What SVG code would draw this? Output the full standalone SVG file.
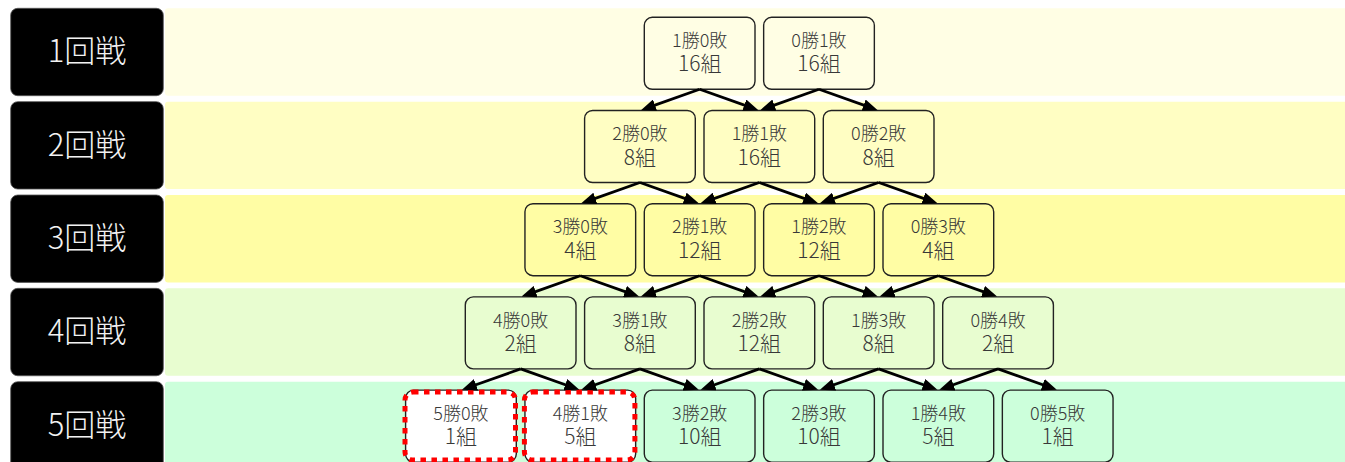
<svg xmlns="http://www.w3.org/2000/svg" width="1345" height="462" viewBox="0 0 1345 462">
<defs>
<style>
.lbl{fill:#000;stroke:#555;stroke-width:0.8}
.lt{fill:#f2f2f2;font-family:"Noto Sans CJK JP","Noto Sans",sans-serif;font-weight:300;font-size:31px;text-anchor:middle}
.nb{stroke:#222;stroke-width:1.4}
.t1{fill:#383838;font-family:"Noto Sans CJK JP","Noto Sans",sans-serif;font-weight:300;font-size:18px;text-anchor:middle}
.t2{fill:#383838;font-family:"Noto Sans CJK JP","Noto Sans",sans-serif;font-weight:300;font-size:21px;text-anchor:middle}
.a{fill:none;stroke:#000;stroke-width:2.8;marker-end:url(#ah)}
.red{fill:none;stroke:#ff0000;stroke-width:5;stroke-dasharray:5.5 5.5}
</style>
<marker id="ah" markerUnits="userSpaceOnUse" markerWidth="15" markerHeight="12" refX="9" refY="6" orient="auto">
<path d="M0,0 L15,6 L0,12 z" fill="#000"/>
</marker>
</defs>
<rect width="1345" height="462" fill="#fff"/>
<g id="bands">
<rect x="165" y="8.3" width="1190" height="87.4" rx="3" fill="#FFFEE4"/>
<rect x="165" y="101.65" width="1190" height="87.4" rx="3" fill="#FFFEC3"/>
<rect x="165" y="195" width="1190" height="87.4" rx="3" fill="#FFFDA4"/>
<rect x="165" y="288.35" width="1190" height="87.4" rx="3" fill="#E8FDD0"/>
<rect x="165" y="381.7" width="1190" height="87.4" rx="3" fill="#CCFFDB"/>
</g>
<g id="round1"><rect class="lbl" x="10.7" y="8.3" width="152.6" height="87.4" rx="7"/><text class="lt" x="87" y="62.3">1回戦</text></g>
<g id="round2"><rect class="lbl" x="10.7" y="101.65" width="152.6" height="87.4" rx="7"/><text class="lt" x="87" y="155.65">2回戦</text></g>
<g id="round3"><rect class="lbl" x="10.7" y="195" width="152.6" height="87.4" rx="7"/><text class="lt" x="87" y="249">3回戦</text></g>
<g id="round4"><rect class="lbl" x="10.7" y="288.35" width="152.6" height="87.4" rx="7"/><text class="lt" x="87" y="342.35">4回戦</text></g>
<g id="round5"><rect class="lbl" x="10.7" y="381.7" width="152.6" height="87.4" rx="7"/><text class="lt" x="87" y="435.7">5回戦</text></g>

<g id="n_1_0"><rect class="nb" fill="#FFFEE4" x="644.3" y="17.3" width="110.7" height="72" rx="8"/><text class="t1" x="699.65" y="47">1勝0敗</text><text class="t2" x="699.65" y="71.3">16組</text></g>
<g id="n_0_1"><rect class="nb" fill="#FFFEE4" x="763.65" y="17.3" width="110.7" height="72" rx="8"/><text class="t1" x="819" y="47">0勝1敗</text><text class="t2" x="819" y="71.3">16組</text></g>

<g id="n_2_0"><rect class="nb" fill="#FFFEC3" x="584.6" y="110.5" width="110.7" height="72" rx="8"/><text class="t1" x="639.98" y="140.2">2勝0敗</text><text class="t2" x="639.98" y="164.5">8組</text></g>
<g id="n_1_1"><rect class="nb" fill="#FFFEC3" x="704" y="110.5" width="110.7" height="72" rx="8"/><text class="t1" x="759.33" y="140.2">1勝1敗</text><text class="t2" x="759.33" y="164.5">16組</text></g>
<g id="n_0_2"><rect class="nb" fill="#FFFEC3" x="823.3" y="110.5" width="110.7" height="72" rx="8"/><text class="t1" x="878.68" y="140.2">0勝2敗</text><text class="t2" x="878.68" y="164.5">8組</text></g>

<g id="n_3_0"><rect class="nb" fill="#FFFDA4" x="524.95" y="203.7" width="110.7" height="72" rx="8"/><text class="t1" x="580.3" y="233.4">3勝0敗</text><text class="t2" x="580.3" y="257.7">4組</text></g>
<g id="n_2_1"><rect class="nb" fill="#FFFDA4" x="644.3" y="203.7" width="110.7" height="72" rx="8"/><text class="t1" x="699.65" y="233.4">2勝1敗</text><text class="t2" x="699.65" y="257.7">12組</text></g>
<g id="n_1_2"><rect class="nb" fill="#FFFDA4" x="763.65" y="203.7" width="110.7" height="72" rx="8"/><text class="t1" x="819" y="233.4">1勝2敗</text><text class="t2" x="819" y="257.7">12組</text></g>
<g id="n_0_3"><rect class="nb" fill="#FFFDA4" x="883" y="203.7" width="110.7" height="72" rx="8"/><text class="t1" x="938.35" y="233.4">0勝3敗</text><text class="t2" x="938.35" y="257.7">4組</text></g>

<g id="n_4_0"><rect class="nb" fill="#E8FDD0" x="465.3" y="296.9" width="110.7" height="72" rx="8"/><text class="t1" x="520.63" y="326.6">4勝0敗</text><text class="t2" x="520.63" y="350.9">2組</text></g>
<g id="n_3_1"><rect class="nb" fill="#E8FDD0" x="584.6" y="296.9" width="110.7" height="72" rx="8"/><text class="t1" x="639.98" y="326.6">3勝1敗</text><text class="t2" x="639.98" y="350.9">8組</text></g>
<g id="n_2_2"><rect class="nb" fill="#E8FDD0" x="704" y="296.9" width="110.7" height="72" rx="8"/><text class="t1" x="759.33" y="326.6">2勝2敗</text><text class="t2" x="759.33" y="350.9">12組</text></g>
<g id="n_1_3"><rect class="nb" fill="#E8FDD0" x="823.3" y="296.9" width="110.7" height="72" rx="8"/><text class="t1" x="878.68" y="326.6">1勝3敗</text><text class="t2" x="878.68" y="350.9">8組</text></g>
<g id="n_0_4"><rect class="nb" fill="#E8FDD0" x="942.7" y="296.9" width="110.7" height="72" rx="8"/><text class="t1" x="998.03" y="326.6">0勝4敗</text><text class="t2" x="998.03" y="350.9">2組</text></g>

<g id="n_5_0"><rect class="nb" fill="#fff" x="405.6" y="390.1" width="110.7" height="72" rx="8"/><rect class="red" x="405" y="392" width="110.5" height="68" rx="8"/><text class="t1" x="460.95" y="419.8">5勝0敗</text><text class="t2" x="460.95" y="444.1">1組</text></g>
<g id="n_4_1"><rect class="nb" fill="#fff" x="524.95" y="390.1" width="110.7" height="72" rx="8"/><rect class="red" x="524.4" y="392" width="110.5" height="68" rx="8"/><text class="t1" x="580.3" y="419.8">4勝1敗</text><text class="t2" x="580.3" y="444.1">5組</text></g>
<g id="n_3_2"><rect class="nb" fill="#CCFFDB" x="644.3" y="390.1" width="110.7" height="72" rx="8"/><text class="t1" x="699.65" y="419.8">3勝2敗</text><text class="t2" x="699.65" y="444.1">10組</text></g>
<g id="n_2_3"><rect class="nb" fill="#CCFFDB" x="763.65" y="390.1" width="110.7" height="72" rx="8"/><text class="t1" x="819" y="419.8">2勝3敗</text><text class="t2" x="819" y="444.1">10組</text></g>
<g id="n_1_4"><rect class="nb" fill="#CCFFDB" x="883" y="390.1" width="110.7" height="72" rx="8"/><text class="t1" x="938.35" y="419.8">1勝4敗</text><text class="t2" x="938.35" y="444.1">5組</text></g>
<g id="n_0_5"><rect class="nb" fill="#CCFFDB" x="1002.35" y="390.1" width="110.7" height="72" rx="8"/><text class="t1" x="1057.7" y="419.8">0勝5敗</text><text class="t2" x="1057.7" y="444.1">1組</text></g>

<g id="connectors">
<path class="a" d="M699.65,89.3 l-53.1,18.86"/><path class="a" d="M699.65,89.3 l53.1,18.86"/>
<path class="a" d="M819,89.3 l-53.1,18.86"/><path class="a" d="M819,89.3 l53.1,18.86"/>

<path class="a" d="M639.98,182.5 l-53.1,18.86"/><path class="a" d="M639.98,182.5 l53.1,18.86"/>
<path class="a" d="M759.33,182.5 l-53.1,18.86"/><path class="a" d="M759.33,182.5 l53.1,18.86"/>
<path class="a" d="M878.68,182.5 l-53.1,18.86"/><path class="a" d="M878.68,182.5 l53.1,18.86"/>

<path class="a" d="M580.3,275.7 l-53.1,18.86"/><path class="a" d="M580.3,275.7 l53.1,18.86"/>
<path class="a" d="M699.65,275.7 l-53.1,18.86"/><path class="a" d="M699.65,275.7 l53.1,18.86"/>
<path class="a" d="M819,275.7 l-53.1,18.86"/><path class="a" d="M819,275.7 l53.1,18.86"/>
<path class="a" d="M938.35,275.7 l-53.1,18.86"/><path class="a" d="M938.35,275.7 l53.1,18.86"/>

<path class="a" d="M520.63,368.9 l-53.1,18.86"/><path class="a" d="M520.63,368.9 l53.1,18.86"/>
<path class="a" d="M639.98,368.9 l-53.1,18.86"/><path class="a" d="M639.98,368.9 l53.1,18.86"/>
<path class="a" d="M759.33,368.9 l-53.1,18.86"/><path class="a" d="M759.33,368.9 l53.1,18.86"/>
<path class="a" d="M878.68,368.9 l-53.1,18.86"/><path class="a" d="M878.68,368.9 l53.1,18.86"/>
<path class="a" d="M998.03,368.9 l-53.1,18.86"/><path class="a" d="M998.03,368.9 l53.1,18.86"/>
</g>
</svg>
